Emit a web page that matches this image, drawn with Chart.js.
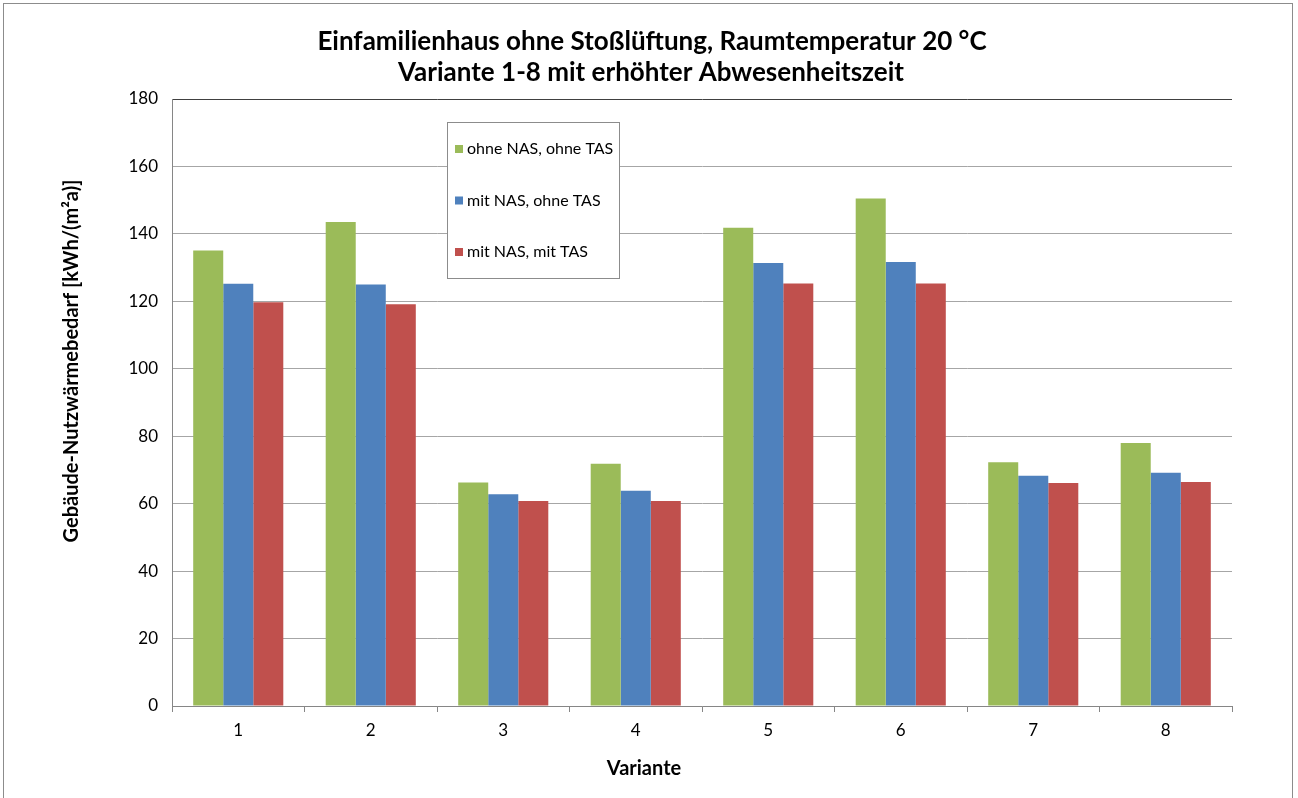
<!DOCTYPE html>
<html>
<head>
<meta charset="utf-8">
<script src="https://cdn.jsdelivr.net/npm/chart.js@4"></script>
<style>
    html, body { margin: 0; padding: 0; background: #fff; }
    #wrap { width: 1298px; height: 798px; }
</style>
</head>
<body>
<div id="wrap"><canvas id="heatChart"></canvas></div>
<script>
// Chart values
const categories = ['1', '2', '3', '4', '5', '6', '7', '8'];
const seriesNames = ['ohne NAS, ohne TAS', 'mit NAS, ohne TAS', 'mit NAS, mit TAS'];
const ohneNasOhneTas = [135.1, 143.5, 66.3, 71.8, 141.8, 150.5, 72.3, 78.0];
const mitNasOhneTas = [125.2, 125.0, 62.8, 63.8, 131.4, 131.7, 68.3, 69.2];
const mitNasMitTas = [119.7, 119.1, 60.8, 60.8, 125.3, 125.3, 66.1, 66.4];
const yTicks = [0, 20, 40, 60, 80, 100, 120, 140, 160, 180];
const colors = ['#9BBB59', '#4F81BD', '#C0504D'];

const titleLines = ['Einfamilienhaus ohne Stoßlüftung, Raumtemperatur 20 °C', 'Variante 1-8 mit erhöhter Abwesenheitszeit'];
const yTitle = 'Gebäude-Nutzwärmebedarf [kWh/(m²a)]';
const xTitle = 'Variante';
const fontFamily = 'Lato, "Open Sans", sans-serif';

// Frame, titles and the boxed legend inside the plot
const decorations = {
    id: 'decorations',
    beforeDraw(chart) {
        const ctx = chart.ctx;
        ctx.save();
        ctx.fillStyle = '#fff';
        ctx.fillRect(0, 0, chart.width, chart.height);
        ctx.strokeStyle = '#8c8c8c';
        ctx.lineWidth = 1;
        ctx.strokeRect(3.5, 3.5, 1289, 800);
        ctx.restore();
    },
    afterDraw(chart) {
        const ctx = chart.ctx;
        ctx.save();
        ctx.fillStyle = '#000';
        ctx.textAlign = 'center';
        ctx.textBaseline = 'middle';
        ctx.font = 'bold 26px ' + fontFamily;
        ctx.fillText(titleLines[0], 652, 42);
        ctx.fillText(titleLines[1], 651, 73);

        ctx.font = 'bold 20px ' + fontFamily;
        ctx.fillText(xTitle, 644, 769);
        ctx.translate(72, 361);
        ctx.rotate(-Math.PI / 2);
        ctx.fillText(yTitle, 0, 0);
        ctx.restore();

        // legend box
        ctx.save();
        ctx.strokeStyle = '#8c8c8c';
        ctx.fillStyle = '#fff';
        ctx.fillRect(447.5, 122.5, 172, 156);
        ctx.strokeRect(447.5, 122.5, 172, 156);
        ctx.font = '16px ' + fontFamily;
        ctx.textAlign = 'left';
        ctx.textBaseline = 'middle';
        chart.data.datasets.forEach((ds, i) => {
            const y = 149 + i * 51.5;
            ctx.fillStyle = ds.backgroundColor;
            ctx.fillRect(455, y - 4, 8, 8);
            ctx.fillStyle = '#000';
            ctx.fillText(ds.label, 467, y);
        });
        ctx.restore();
    }
};

const ctx = document.getElementById('heatChart').getContext('2d');
new Chart(ctx, {
    type: 'bar',
    data: {
        labels: categories,
        datasets: [
            { label: seriesNames[0], data: ohneNasOhneTas, backgroundColor: colors[0] },
            { label: seriesNames[1], data: mitNasOhneTas, backgroundColor: colors[1] },
            { label: seriesNames[2], data: mitNasMitTas, backgroundColor: colors[2] }
        ]
    },
    options: {
        responsive: true,
        maintainAspectRatio: false,
        animation: false,
        devicePixelRatio: 1,
        datasets: {
            bar: { categoryPercentage: 0.68, barPercentage: 1.0, borderWidth: 0 }
        },
        layout: {
            padding: { left: 112, right: 66, top: 99, bottom: 62 }
        },
        plugins: {
            legend: { display: false },
            title: { display: false },
            tooltip: { enabled: false }
        },
        scales: {
            x: {
                afterFit(scale) { scale.height = 30; },
                grid: {
                    offset: true,
                    drawOnChartArea: false,
                    drawTicks: true,
                    tickLength: 6,
                    color: '#868686'
                },
                border: { color: '#868686' },
                ticks: {
                    color: '#000',
                    padding: 8,
                    font: { family: fontFamily, size: 17 }
                }
            },
            y: {
                min: 0,
                max: 180,
                afterFit(scale) { scale.width = 60; },
                afterBuildTicks(scale) {
                    scale.ticks = yTicks.map(v => ({ value: v }));
                },
                grid: {
                    drawTicks: false,
                    color: ctx => ctx.tick && ctx.tick.value === 180 ? '#404040' : '#a6a6a6'
                },
                border: { color: '#868686' },
                ticks: {
                    color: '#000',
                    padding: 14,
                    font: { family: fontFamily, size: 17 }
                }
            }
        }
    },
    plugins: [decorations]
});
</script>
</body>
</html>
